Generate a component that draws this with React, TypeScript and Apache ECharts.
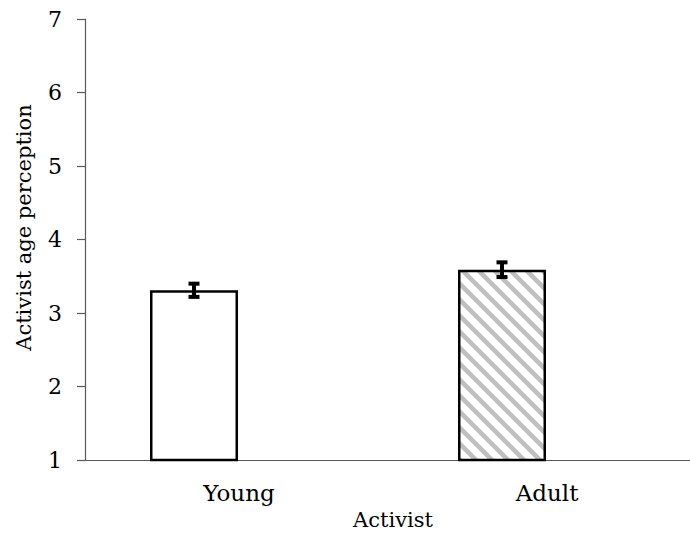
import React, { useEffect, useRef } from "react";
import * as echarts from "echarts";

// Activist condition means with standard errors
const categories: string[] = ["Young", "Adult"];
const means: number[] = [3.31, 3.59];
const errors: number[] = [0.09, 0.1];
const yTicks = { min: 1, max: 7, interval: 1 };

const FONT = "DejaVu Serif";

function makeHatch(): HTMLCanvasElement {
  const size = 16;
  const c = document.createElement("canvas");
  c.width = size;
  c.height = size;
  const ctx = c.getContext("2d")!;
  ctx.fillStyle = "#ffffff";
  ctx.fillRect(0, 0, size, size);
  ctx.strokeStyle = "#bfbfbf";
  ctx.lineWidth = 4.5;
  ctx.beginPath();
  ctx.moveTo(-4, -4);
  ctx.lineTo(size + 4, size + 4);
  ctx.moveTo(-4 - size, -4);
  ctx.lineTo(4, size + 4);
  ctx.moveTo(size - 4, -4);
  ctx.lineTo(2 * size + 4, size + 4);
  ctx.stroke();
  return c;
}

export default function App() {
  const ref = useRef<HTMLDivElement>(null);

  useEffect(() => {
    if (!ref.current) return;
    const chart = echarts.init(ref.current, undefined, { renderer: "svg" });
    const hatch = makeHatch();
    const barWidth = 88;
    const barGapPx = 2;
    const offset = -(barWidth + barGapPx) / 2;

    const barData = means.map((v, i) => ({
      value: v,
      itemStyle: {
        color: i === 0 ? "#ffffff" : { image: hatch, repeat: "repeat" },
      },
    }));

    chart.setOption({
      animation: false,
      backgroundColor: "#ffffff",
      grid: { left: 85, right: 1, top: 19, bottom: 74 },
      xAxis: {
        type: "category",
        data: categories,
        name: "Activist",
        nameLocation: "middle",
        nameGap: 48,
        nameTextStyle: { fontFamily: FONT, fontSize: 21, color: "#000" },
        axisLine: { lineStyle: { color: "#595959", width: 1.2 } },
        axisTick: { show: false },
        axisLabel: {
          fontFamily: FONT,
          fontSize: 23,
          color: "#000",
          margin: 21,
        },
      },
      yAxis: {
        type: "value",
        min: yTicks.min,
        max: yTicks.max,
        interval: yTicks.interval,
        name: "Activist age perception",
        nameLocation: "middle",
        nameGap: 51,
        nameTextStyle: {
          fontFamily: FONT,
          fontSize: 21,
          color: "#000",
          padding: [0, 0, 0, 24],
        },
        axisLine: { show: true, lineStyle: { color: "#595959", width: 1.2 } },
        axisTick: {
          show: true,
          inside: false,
          length: 8,
          lineStyle: { color: "#595959", width: 1.2 },
        },
        splitLine: { show: false },
        axisLabel: {
          fontFamily: FONT,
          fontSize: 22,
          color: "#000",
          margin: 23,
        },
      },
      series: [
        {
          type: "bar",
          data: barData,
          barWidth,
          barGap: `${(barGapPx / barWidth) * 100}%`,
          itemStyle: { borderColor: "#000", borderWidth: 2.5 },
          z: 2,
        },
        {
          type: "bar",
          data: categories.map(() => "-"),
          barWidth,
        },
        {
          type: "custom",
          z: 5,
          data: means.map((m, i) => [i, m - errors[i], m + errors[i]]),
          renderItem: (_params: any, api: any) => {
            const i = api.value(0);
            const lo = api.coord([i, api.value(1)]);
            const hi = api.coord([i, api.value(2)]);
            const x = lo[0] + offset;
            const cap = 5.5;
            const style = { stroke: "#000", lineWidth: 4 };
            return {
              type: "group",
              children: [
                { type: "line", shape: { x1: x, y1: lo[1], x2: x, y2: hi[1] }, style },
                { type: "line", shape: { x1: x - cap, y1: lo[1], x2: x + cap, y2: lo[1] }, style },
                { type: "line", shape: { x1: x - cap, y1: hi[1], x2: x + cap, y2: hi[1] }, style },
              ],
            };
          },
        },
      ],
    });

    return () => chart.dispose();
  }, []);

  return (
    <div
      style={{
        position: "fixed",
        left: 0,
        top: 0,
        width: 690,
        height: 535,
        overflow: "hidden",
        background: "#fff",
      }}
    >
      <div ref={ref} style={{ width: 702, height: 535 }} />
    </div>
  );
}
